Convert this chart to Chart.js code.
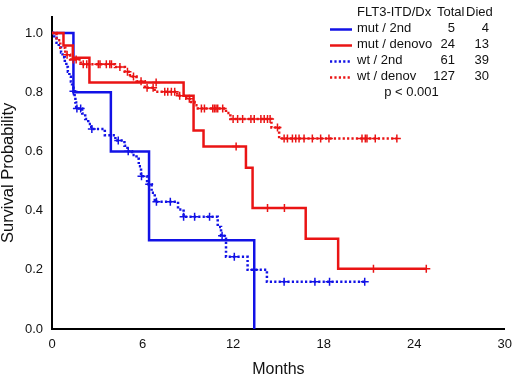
<!DOCTYPE html>
<html>
<head>
<meta charset="utf-8">
<script src="https://cdn.jsdelivr.net/npm/chart.js@4.4.1/dist/chart.umd.min.js"></script>
<style>
  html, body { margin: 0; padding: 0; background: #fff; }
  #km { display: block; }
</style>
</head>
<body>
<canvas id="km" width="520" height="376"></canvas>
<script>
// axis ticks
const xTicks = [0, 6, 12, 18, 24, 30];
const yTicks = [0, 0.2, 0.4, 0.6, 0.8, 1.0];

// legend table
const groupLabels = ['mut / 2nd', 'mut / denovo', 'wt / 2nd', 'wt / denov'];
const groupTotals = [5, 24, 61, 127];
const groupDied = [4, 13, 39, 30];
const pValueText = 'p < 0.001';

// mut / 2nd  (event times in months, survival after each step)
const mut2ndTimes = [0, 1.42, 3.9, 6.43, 13.4];
const mut2ndSurv = [1.0, 0.8, 0.6, 0.3, 0.0];
const mut2ndCensor = [];

// mut / denovo
const mutDenovoTimes = [0, 0.76, 1.38, 2.48, 8.72, 9.38, 10.04, 12.85, 13.29, 16.81, 18.96];
const mutDenovoSurv = [1.0, 0.958, 0.917, 0.833, 0.788, 0.671, 0.617, 0.545, 0.409, 0.305, 0.204];
const mutDenovoCensor = [6.9, 12.2, 14.28, 15.4, 21.3, 24.8];

// wt / 2nd
const wt2ndTimes = [0, 0.15, 0.3, 0.45, 0.6, 0.7, 0.85, 0.95, 1.05, 1.15, 1.25, 1.33, 1.42, 1.5, 1.55,
    1.6, 2.0, 2.2, 2.4, 2.6, 3.5, 4.2, 4.8, 5.0, 5.3, 5.6, 5.75, 5.9, 6.3, 6.6, 6.81, 8.35, 8.72,
    10.98, 11.2, 11.53, 12.96, 14.24];
const wt2ndSurv = [1.0, 0.984, 0.967, 0.951, 0.934, 0.918, 0.902, 0.885, 0.869, 0.852, 0.836, 0.82, 0.803, 0.786, 0.765,
    0.745, 0.728, 0.71, 0.693, 0.676, 0.655, 0.637, 0.619, 0.601, 0.588, 0.575, 0.55, 0.516, 0.489, 0.46, 0.43, 0.404, 0.379,
    0.345, 0.315, 0.244, 0.2, 0.16];
const wt2ndCensor = [1.42, 1.65, 1.9, 2.64, 4.39, 5.05, 5.93, 6.44, 6.92, 7.84, 8.72, 9.45, 10.44, 11.27, 12.08, 13.4,
    15.38, 17.42, 18.39, 20.72];

// wt / denovo
const wtDenovoTimes = [0, 0.3, 0.55, 0.88, 1.2, 1.9, 4.17, 4.83, 5.16, 5.6, 6.15, 6.8, 8.3, 8.9, 9.22, 9.45, 9.66,
    11.53, 11.82, 14.54, 15.05];
const wtDenovoSurv = [1.0, 0.976, 0.95, 0.927, 0.911, 0.895, 0.885, 0.869, 0.853, 0.837, 0.815, 0.802, 0.788, 0.778,
    0.767, 0.756, 0.745, 0.73, 0.71, 0.681, 0.644];
const wtDenovoCensor = [1.0, 1.4, 1.6, 2.07, 2.3, 3.07, 3.18, 3.6, 3.83, 3.94, 4.5, 5.0, 5.4, 5.9, 6.3, 6.7, 7.47, 7.67,
    7.91, 8.13, 8.46, 9.1, 9.9, 10.1, 10.65, 10.76, 10.87, 10.98, 11.31, 12.0, 12.3, 12.63, 13.18, 13.4, 13.84, 14.06,
    14.28, 14.45, 14.94, 15.38, 15.6, 15.93, 16.15, 16.37, 16.7, 17.25, 17.8, 18.35, 20.54, 20.76, 20.87, 21.42, 22.85];

const BLUE = '#1212e6';
const RED = '#ea1414';

function survAt(times, surv, t) {
    let s = surv[0];
    for (let i = 0; i < times.length; i++) {
        if (times[i] <= t) s = surv[i];
    }
    return s;
}

function stepData(times, surv, censor) {
    const pts = times.map((t, i) => ({ x: t, y: surv[i] }));
    const lastFollow = censor.length ? Math.max(...censor) : 0;
    if (lastFollow > times[times.length - 1]) {
        pts.push({ x: lastFollow, y: surv[surv.length - 1] });
    }
    return pts;
}

function censorData(times, surv, censor) {
    return censor.map(t => ({ x: t, y: survAt(times, surv, t) }));
}

function curve(times, surv, censor, color, dashed) {
    return [{
        type: 'line',
        data: stepData(times, surv, censor),
        borderColor: color,
        borderWidth: 2.5,
        borderDash: dashed ? [2.2, 2.2] : [],
        stepped: 'before',
        pointRadius: 0,
        fill: false
    }, {
        type: 'scatter',
        data: censorData(times, surv, censor),
        borderColor: color,
        backgroundColor: color,
        pointStyle: 'cross',
        pointRadius: 4,
        borderWidth: 1.5
    }];
}

const legendTable = {
    id: 'legendTable',
    afterDraw(chart) {
        const ctx = chart.ctx;
        ctx.save();
        ctx.font = '13px "Liberation Sans", Arial, sans-serif';
        ctx.fillStyle = '#111';
        ctx.textBaseline = 'middle';
        ctx.textAlign = 'left';
        ctx.fillText('FLT3-ITD/Dx', 357, 12.5);
        ctx.fillText('Total', 437, 12.5);
        ctx.fillText('Died', 466, 12.5);
        const colors = [BLUE, RED, BLUE, RED];
        const dashed = [false, false, true, true];
        groupLabels.forEach((label, i) => {
            const y = 28.5 + i * 16;
            ctx.beginPath();
            ctx.strokeStyle = colors[i];
            ctx.lineWidth = 2.5;
            ctx.setLineDash(dashed[i] ? [2.2, 2.2] : []);
            ctx.moveTo(330, y + 1);
            ctx.lineTo(352, y + 1);
            ctx.stroke();
            ctx.setLineDash([]);
            ctx.textAlign = 'left';
            ctx.fillText(label, 357, y);
            ctx.textAlign = 'right';
            ctx.fillText(String(groupTotals[i]), 455, y);
            ctx.fillText(String(groupDied[i]), 489, y);
        });
        ctx.textAlign = 'center';
        ctx.fillText(pValueText, 411.5, 92.5);
        ctx.restore();
    }
};

const datasets = [
    ...curve(wtDenovoTimes, wtDenovoSurv, wtDenovoCensor, RED, true),
    ...curve(wt2ndTimes, wt2ndSurv, wt2ndCensor, BLUE, true),
    ...curve(mutDenovoTimes, mutDenovoSurv, mutDenovoCensor, RED, false),
    ...curve(mut2ndTimes, mut2ndSurv, mut2ndCensor, BLUE, false)
];

new Chart(document.getElementById('km'), {
    type: 'scatter',
    data: { datasets },
    options: {
        responsive: false,
        animation: false,
        layout: { padding: { left: 0, right: 13, top: 0, bottom: 0 } },
        plugins: { legend: { display: false }, tooltip: { enabled: false } },
        scales: {
            x: {
                type: 'linear',
                min: 0,
                max: 30,
                afterBuildTicks: axis => { axis.ticks = xTicks.map(v => ({ value: v })); },
                afterFit: axis => { axis.height = 47; },
                grid: { display: false, drawTicks: false },
                border: { display: true, color: '#000', width: 2 },
                ticks: {
                    color: '#111',
                    padding: 8,
                    maxRotation: 0,
                    font: { family: '"Liberation Sans", Arial, sans-serif', size: 13 },
                    callback: v => String(v)
                },
                title: {
                    display: true,
                    text: 'Months',
                    color: '#111',
                    padding: 0,
                    font: { family: '"Liberation Sans", Arial, sans-serif', size: 16, lineHeight: 0.8 }
                }
            },
            y: {
                type: 'linear',
                min: 0,
                max: 1.055,
                afterBuildTicks: axis => { axis.ticks = yTicks.map(v => ({ value: v })); },
                afterFit: axis => { axis.width = 52; },
                grid: { display: false, drawTicks: false },
                border: { display: true, color: '#000', width: 2 },
                ticks: {
                    color: '#111',
                    padding: 9,
                    font: { family: '"Liberation Sans", Arial, sans-serif', size: 13 },
                    callback: v => Number(v).toFixed(1)
                },
                title: {
                    display: true,
                    text: 'Survival Probability',
                    color: '#111',
                    padding: 0,
                    font: { family: '"Liberation Sans", Arial, sans-serif', size: 16.5, lineHeight: 1.0 }
                }
            }
        }
    },
    plugins: [legendTable]
});
</script>
</body>
</html>
